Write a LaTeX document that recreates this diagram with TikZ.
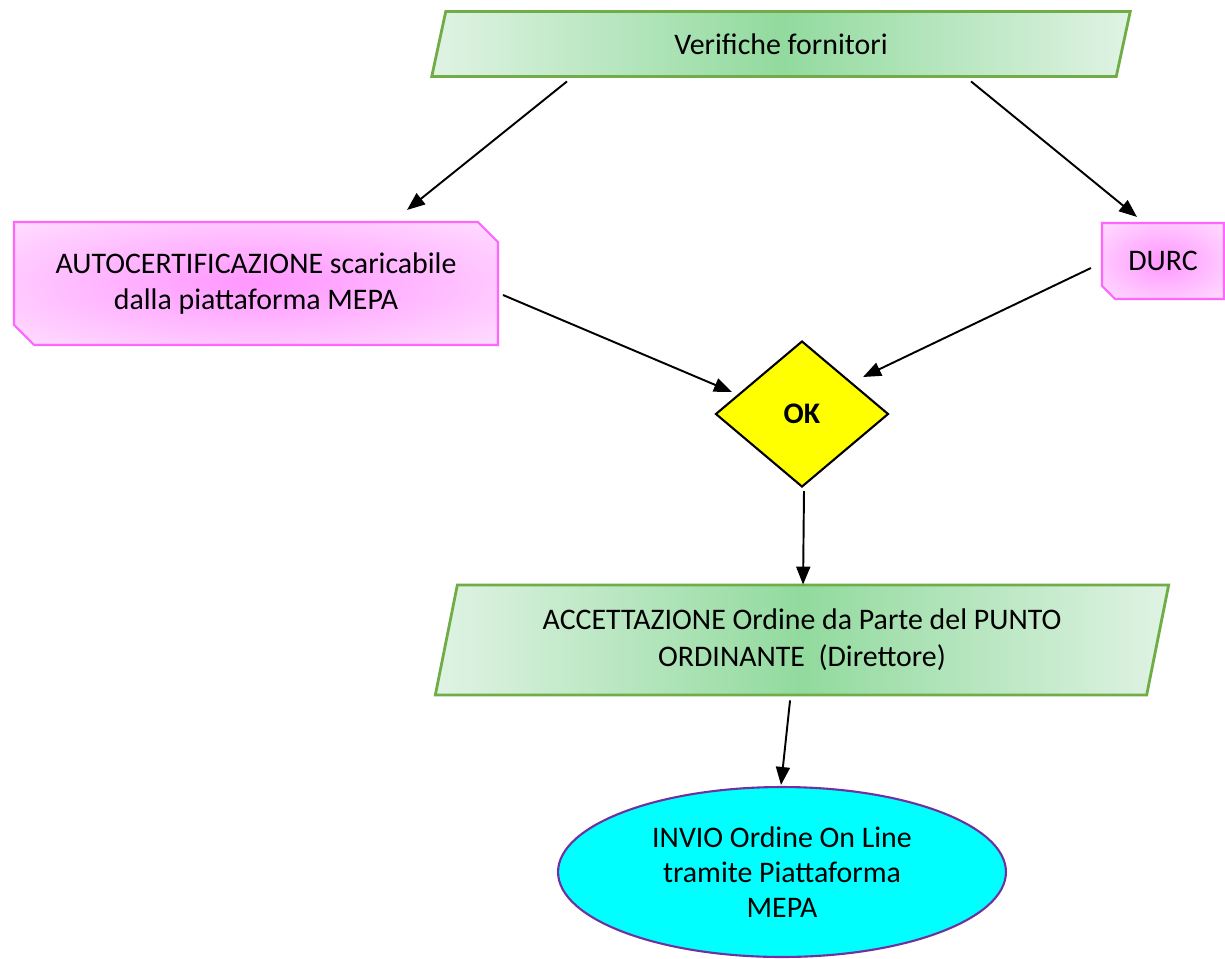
\documentclass[tikz,border=0pt]{standalone}
\usepackage{fontspec}
\setmainfont{Carlito}
\usetikzlibrary{
    shapes.geometric,
    shapes.misc,
    arrows.meta,
    positioning
}
\definecolor{flowGreen}{RGB}{146, 218, 158}
\definecolor{flowGreenLight}{RGB}{224, 243, 228}
\definecolor{flowGreenBorder}{RGB}{112, 173, 71}
\definecolor{docPink}{RGB}{255, 150, 255}
\definecolor{docPinkLight}{RGB}{255, 226, 255}
\definecolor{docPinkBorder}{RGB}{255, 102, 255}
\definecolor{checkYellow}{RGB}{255, 255, 0}
\definecolor{sendCyan}{RGB}{0, 255, 255}
\definecolor{sendPurple}{RGB}{112, 48, 160}
\pgfdeclareradialshading{pinkGlow}{\pgfpoint{0bp}{0bp}}{%
    color(0bp)=(docPink); color(38bp)=(docPinkLight); color(100bp)=(docPinkLight)}
\tikzset{
    baseText/.style={
        font=\fontsize{17}{21}\selectfont,
        text=black,
        align=center
    },
    ioBox/.style={
        baseText,
        trapezium,
        trapezium left angle=78,
        trapezium right angle=102,
        trapezium stretches=true,
        draw=flowGreenBorder,
        line width=1.6pt,
        left color=flowGreenLight,
        right color=flowGreenLight,
        middle color=flowGreen,
        inner sep=0pt
    },
    docBox/.style={
        baseText,
        chamfered rectangle,
        chamfered rectangle corners={north east, south west},
        chamfered rectangle sep=0.2cm,
        draw=docPinkBorder,
        line width=1.2pt,
        shading=pinkGlow,
        inner sep=0pt
    },
    checkBox/.style={
        diamond,
        aspect=1.18,
        draw=black,
        line width=1.2pt,
        fill=checkYellow,
        font=\fontsize{17}{21}\selectfont\bfseries,
        inner sep=0pt
    },
    sendBox/.style={
        baseText,
        ellipse,
        draw=sendPurple,
        line width=1.2pt,
        fill=sendCyan,
        inner sep=0pt,
        font=\fontsize{17}{20}\selectfont
    },
    connector/.style={
        line width=1.1pt,
        draw=black,
        -{Triangle[length=0.36cm, width=0.28cm]}
    }
}
\begin{document}
\begin{tikzpicture}[x=0.02cm, y=-0.02cm]
    \useasboundingbox (0,0) rectangle (1225,958);
    \fill[white] (0,0) rectangle (1225,958);

    % Flowchart
    \node[ioBox, minimum width=13.98cm, minimum height=1.3cm] (verif) at (781,44) {Verifiche fornitori};
    \node[docBox, minimum width=9.68cm, minimum height=2.46cm] (autocert) at (256,283.5) {AUTOCERTIFICAZIONE scaricabile\\dalla piattaforma MEPA};
    \node[docBox, chamfered rectangle corners=south west, chamfered rectangle sep=0.13cm,
          minimum width=2.44cm, minimum height=1.52cm] (durc) at (1163,261) {DURC};

    % Decision
    \node[checkBox, minimum width=3.46cm, minimum height=2.92cm] (ok) at (802,414) {OK};

    % Order
    \node[ioBox, trapezium left angle=75, trapezium right angle=105,
          minimum width=14.72cm, minimum height=2.2cm] (accept) at (802,640) {ACCETTAZIONE Ordine da Parte del PUNTO\\ORDINANTE~~(Direttore)};
    \node[sendBox, minimum width=8.96cm, minimum height=3.4cm] (invio) at (782,872) {INVIO Ordine On Line\\tramite Piattaforma\\MEPA};

    % Edges
    \draw[connector] ([shift={(-214,3.5)}]verif.south) -- ([shift={(151,-11)}]autocert.north);
    \draw[connector] ([shift={(190,3.5)}]verif.south) -- ([shift={(-26,-5)}]durc.north);
    \draw[connector] ([shift={(4,11.5)}]autocert.east) -- ([shift={(17.5,-22)}]ok.west);
    \draw[connector] ([shift={(-10,7)}]durc.west) -- ([shift={(-26.5,-37)}]ok.east);
    \draw[connector] ([shift={(2,3)}]ok.south) -- ([shift={(1,1)}]accept.north);
    \draw[connector] ([shift={(-12,4)}]accept.south) -- ([shift={(-1,-1)}]invio.north);
\end{tikzpicture}
\end{document}
